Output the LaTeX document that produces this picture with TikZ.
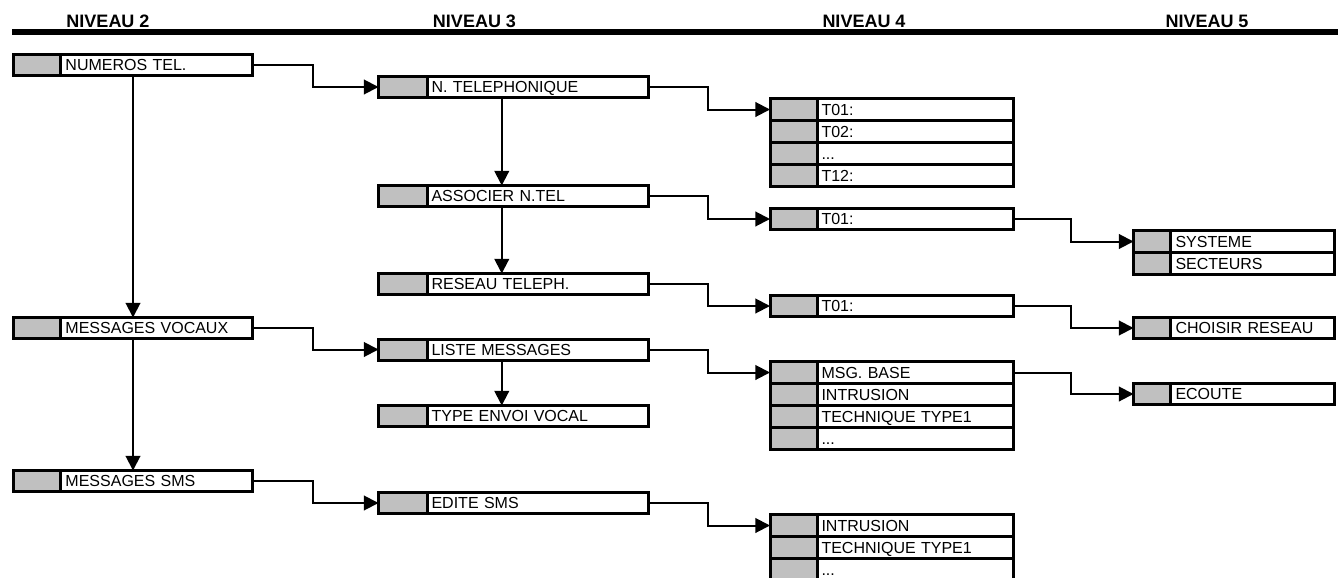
\documentclass[tikz,border=0pt]{standalone}
\usepackage{fontspec}
\setmainfont{Liberation Sans}
\usetikzlibrary{
    arrows.meta,
    positioning
}
\definecolor{Mgrey}{RGB}{192, 192, 192}
\newcommand{\mgreycol}[1]{%
    \fill[Mgrey] (path picture bounding box.north west) rectangle ([xshift=#1]path picture bounding box.south west);
    \draw[line width=2.25pt] ([xshift=#1]path picture bounding box.north west) -- ([xshift=#1]path picture bounding box.south west);}
\tikzset{
    mcell/.style 2 args={
        rectangle, draw=black, line width=2.25pt, fill=white,
        inner sep=0pt, outer sep=0pt, anchor=north west,
        text width=#1, minimum height=15.75pt, text height=8.6pt, text depth=0pt,
        align=left, font=\fontsize{12}{14}\selectfont,
        path picture={\mgreycol{#2}},
        execute at begin node={\hspace*{\dimexpr #2+3.4pt\relax}}
    },
    mtwo/.style={mcell={179.25pt}{35.6pt}},
    mthree/.style={mcell={202.5pt}{36.4pt}},
    mfour/.style={mcell={182.6pt}{35.25pt}},
    mfive/.style={mcell={150.75pt}{28.1pt}},
    mrow/.style={minimum height=16.5pt},
    mhead/.style={anchor=base, font=\fontsize{13.5}{16}\selectfont\bfseries},
    marr/.style={-{Triangle[length=11pt, width=11pt]}, line width=1.5pt},
}

\begin{document}
\begin{tikzpicture}[x=0.75pt, y=-0.75pt]

    \useasboundingbox (0,0) rectangle (1338,578);

    % headers
    \node [mhead] (h2) at (108,27) {NIVEAU 2};
    \node [mhead] (h3) at (474.5,27) {NIVEAU 3};
    \node [mhead] (h4) at (864,27) {NIVEAU 4};
    \node [mhead] (h5) at (1207,27) {NIVEAU 5};
    \draw [line width=4pt] (12,32) -- (1338,32);

    % niveau 2
    \node [mtwo] (num) at (13.5,54.5) {NUMEROS TEL.};
    \node [mtwo] (voc) at (13.5,317.5) {MESSAGES VOCAUX};
    \node [mtwo] (sms) at (13.5,470.5) {MESSAGES SMS};

    % niveau 3
    \node [mthree] (ntel) at (378.5,76.5) {N. TELEPHONIQUE};
    \node [mthree] (assoc) at (378.5,185.5) {ASSOCIER N.TEL};
    \node [mthree] (reseau) at (378.5,273.5) {RESEAU TELEPH.};
    \node [mthree] (liste) at (378.5,339) {LISTE MESSAGES};
    \node [mthree] (envoi) at (378.5,405.5) {TYPE ENVOI VOCAL};
    \node [mthree] (edite) at (378.5,492.5) {EDITE SMS};

    % niveau 4
    \node [mfour, mrow] (tA1) at (770,98.5) {T01:};
    \node [mfour, mrow, below=0pt of tA1] (tA2) {T02:};
    \node [mfour, mrow, below=0pt of tA2] (tA3) {...};
    \node [mfour, mrow, below=0pt of tA3] (tA4) {T12:};

    \node [mfour] (tB) at (770,208.5) {T01:};
    \node [mfour] (tC) at (770,295.5) {T01:};

    \node [mfour, mrow] (tD1) at (770,361.5) {MSG. BASE};
    \node [mfour, mrow, below=0pt of tD1] (tD2) {INTRUSION};
    \node [mfour, mrow, below=0pt of tD2] (tD3) {TECHNIQUE TYPE1};
    \node [mfour, mrow, below=0pt of tD3] (tD4) {...};

    \node [mfour, mrow] (tE1) at (770,514.5) {INTRUSION};
    \node [mfour, mrow, below=0pt of tE1] (tE2) {TECHNIQUE TYPE1};
    \node [mfour, mrow, below=0pt of tE2] (tE3) {...};

    % niveau 5
    \node [mfive, mrow] (sysA) at (1133.5,230.5) {SYSTEME};
    \node [mfive, mrow, below=0pt of sysA] (sysB) {SECTEURS};
    \node [mfive] (chois) at (1133.5,317.5) {CHOISIR RESEAU};
    \node [mfive] (ecoute) at (1133.5,383.5) {ECOUTE};

    % liens
    \draw [marr] (num) -- (voc);
    \draw [marr] (voc) -- (sms);
    \draw [marr] ([xshift=-8.8pt]ntel.south) -- ([xshift=-8.8pt]assoc.north);
    \draw [marr] ([xshift=-8.8pt]assoc.south) -- ([xshift=-8.8pt]reseau.north);
    \draw [marr] ([xshift=-8.8pt]liste.south) -- ([xshift=-8.8pt]envoi.north);

    \draw [marr] (num.east) -- ++(60,0) |- (ntel.west);
    \draw [marr] (voc.east) -- ++(60,0) |- (liste.west);
    \draw [marr] (sms.east) -- ++(60,0) |- (edite.west);

    \draw [marr] (ntel.east) -- ++(59.5,0) |- (tA1.west);
    \draw [marr] (assoc.east) -- ++(59.5,0) |- (tB.west);
    \draw [marr] (reseau.east) -- ++(59.5,0) |- (tC.west);
    \draw [marr] (liste.east) -- ++(59.5,0) |- (tD1.west);
    \draw [marr] (edite.east) -- ++(59.5,0) |- (tE1.west);

    \draw [marr] (tB.east) -- ++(57.5,0) |- (sysA.west);
    \draw [marr] (tC.east) -- ++(57.5,0) |- (chois.west);
    \draw [marr] (tD1.east) -- ++(57.5,0) |- (ecoute.west);

\end{tikzpicture}
\end{document}
